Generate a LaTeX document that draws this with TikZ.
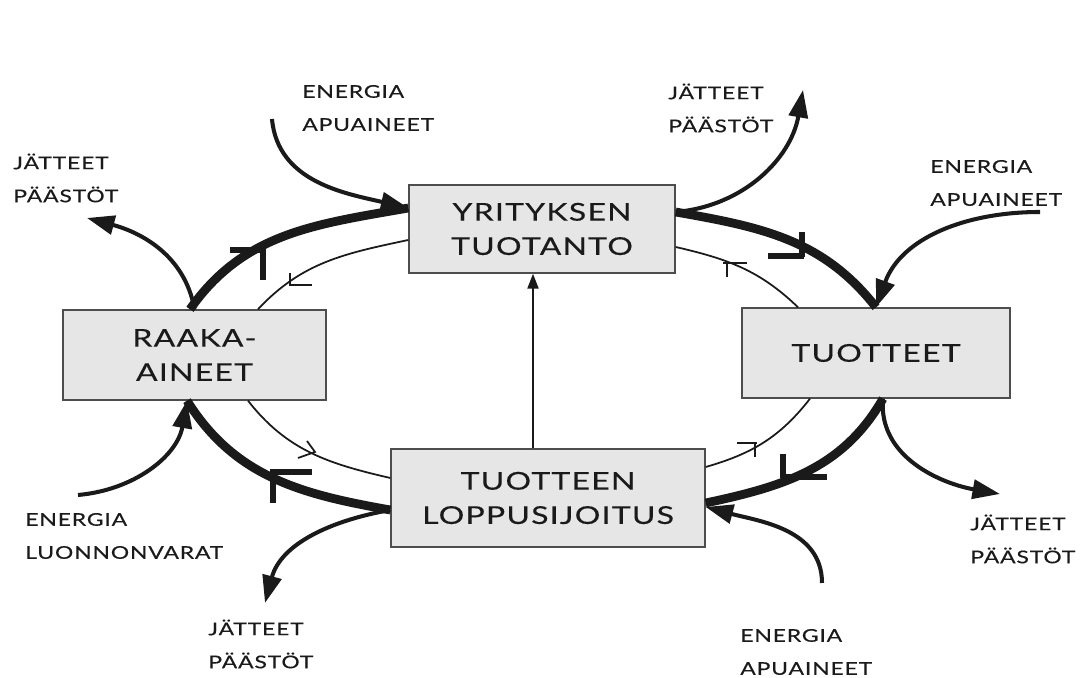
\documentclass[tikz,border=0pt]{standalone}
\usepackage{fontspec}
\setmainfont{Lato}[FakeStretch=1.3,LetterSpace=5,FakeBold=0.3]
\usetikzlibrary{arrows.meta}
\definecolor{boxgray}{HTML}{E6E6E6}
\definecolor{edgegray}{HTML}{4D4D4D}
\definecolor{inkblack}{HTML}{1A1A1A}

\begin{document}
\begin{tikzpicture}[x=0.02cm, y=0.02cm,
  stage/.style={draw=edgegray, line width=0.8pt, fill=boxgray, inner sep=0pt, align=center, text=inkblack, font=\fontsize{14}{19.5}\selectfont},
  note/.style={anchor=west, align=left, inner sep=0pt, text=inkblack, font=\fontsize{10}{18.8}\selectfont},
  ring/.style={line width=5pt, inkblack},
  innerring/.style={line width=1pt, inkblack},
  flow/.style={line width=2.3pt, inkblack, -{Triangle[length=5.5mm,width=3.8mm]}},
  tickbig/.style={line width=3.2pt, inkblack},
  ticksmall/.style={line width=1pt, inkblack}]
 \useasboundingbox (0,0) rectangle (1086,678);

 \node[stage, minimum width=5.32cm, minimum height=1.76cm] (prod) at (542,449) {YRITYKSEN\\TUOTANTO};
 \node[stage, minimum width=5.26cm, minimum height=1.8cm] (raw) at (194.5,323) {RAAKA-\\AINEET};
 \node[stage, minimum width=5.36cm, minimum height=1.8cm] (goods) at (876,325) {TUOTTEET};
 \node[stage, minimum width=6.28cm, minimum height=1.96cm] (disp) at (548,180) {TUOTTEEN\\LOPPUSIJOITUS};

 % outer cycle
 \draw[ring] ([xshift=-0.09cm]raw.north) to[out=55, in=190] ([yshift=0.42cm]prod.west);
 \draw[ring] ([yshift=0.34cm]prod.east) to[out=-10, in=128] (goods.north);
 \draw[ring] ([xshift=0.14cm]goods.south) to[out=-120, in=12] ([yshift=-0.1cm]disp.east);
 \draw[ring] ([yshift=-0.24cm]disp.west) to[out=170, in=-58] ([xshift=-0.15cm]raw.south);

 % inner cycle
 \draw[innerring] ([yshift=-0.22cm]prod.west) to[out=192, in=47] ([xshift=1.27cm]raw.north);
 \draw[innerring] ([xshift=1.07cm]raw.south) to[out=-52, in=167] ([yshift=0.4cm]disp.west);
 \draw[innerring] ([yshift=0.62cm]disp.east) to[out=16, in=-128] ([xshift=-1.32cm]goods.south);
 \draw[innerring] ([xshift=-1.56cm]goods.north) to[out=136, in=-13] ([yshift=-0.36cm]prod.east);

 % middle arrow
 \coordinate (axis) at (533,0);
 \draw[line width=1.2pt, inkblack, -{Triangle[length=3mm,width=2.2mm]}] (axis |- disp.north) -- (axis |- prod.south);

 % direction marks
 \draw[tickbig] (230,428) -- (265,428) (263,429) -- (263,398);
 \draw[tickbig] (768,422) -- (804,422) (802,421) -- (802,446);
 \draw[tickbig] (270,206) -- (312,206) (273,207) -- (273,175);
 \draw[tickbig] (783,224) -- (783,200) (782,201) -- (827,201);
 \draw[ticksmall] (290,405) -- (290,393) -- (312,393);
 \draw[ticksmall] (723,415) -- (747,415) (727,415) -- (727,401);
 \draw[ticksmall] (307,237) -- (315,226) -- (298,220);
 \draw[ticksmall] (737,235) -- (757,235) (755,235) -- (755,221);

 % inputs and outputs
 \coordinate (inA) at (272,559);
 \coordinate (outA) at (803,588);
 \coordinate (inB) at (1040,466);
 \coordinate (outB) at (1000,184);
 \coordinate (inC) at (822,95);
 \coordinate (outC) at (265,75);
 \coordinate (inD) at (78,183);
 \coordinate (outD) at (87,460);
 \draw[flow] (inA) to[out=-85, in=167] ([yshift=0.42cm]prod.west);
 \draw[flow] ([yshift=0.34cm]prod.east) to[out=5, in=-100] (outA);
 \draw[flow] (inB) to[out=180, in=70] (goods.north);
 \draw[flow] ([xshift=0.14cm]goods.south) to[out=-95, in=170] (outB);
 \draw[flow] (inC) to[out=90, in=-15] ([yshift=-0.18cm]disp.east);
 \draw[flow] ([yshift=-0.24cm]disp.west) to[out=190, in=75] (outC);
 \draw[flow] (inD) to[out=5, in=-100] ([xshift=-0.15cm]raw.south);
 \draw[flow] (raw.north) to[out=100, in=-15] (outD);

 \node[note] (topin) at (302,570) {ENERGIA\\APUAINEET};
 \node[note] (topout) at (668,570) {JÄTTEET\\PÄÄSTÖT};
 \node[note] (rightin) at (930,495) {ENERGIA\\APUAINEET};
 \node[note] (leftout) at (13,500) {JÄTTEET\\PÄÄSTÖT};
 \node[note] (leftin) at (25,142) {ENERGIA\\LUONNONVARAT};
 \node[note] (bottomout) at (208,34) {JÄTTEET\\PÄÄSTÖT};
 \node[note] (rightout) at (970,139) {JÄTTEET\\PÄÄSTÖT};
 \node[note] (bottomin) at (740,26) {ENERGIA\\APUAINEET};
\end{tikzpicture}
\end{document}
